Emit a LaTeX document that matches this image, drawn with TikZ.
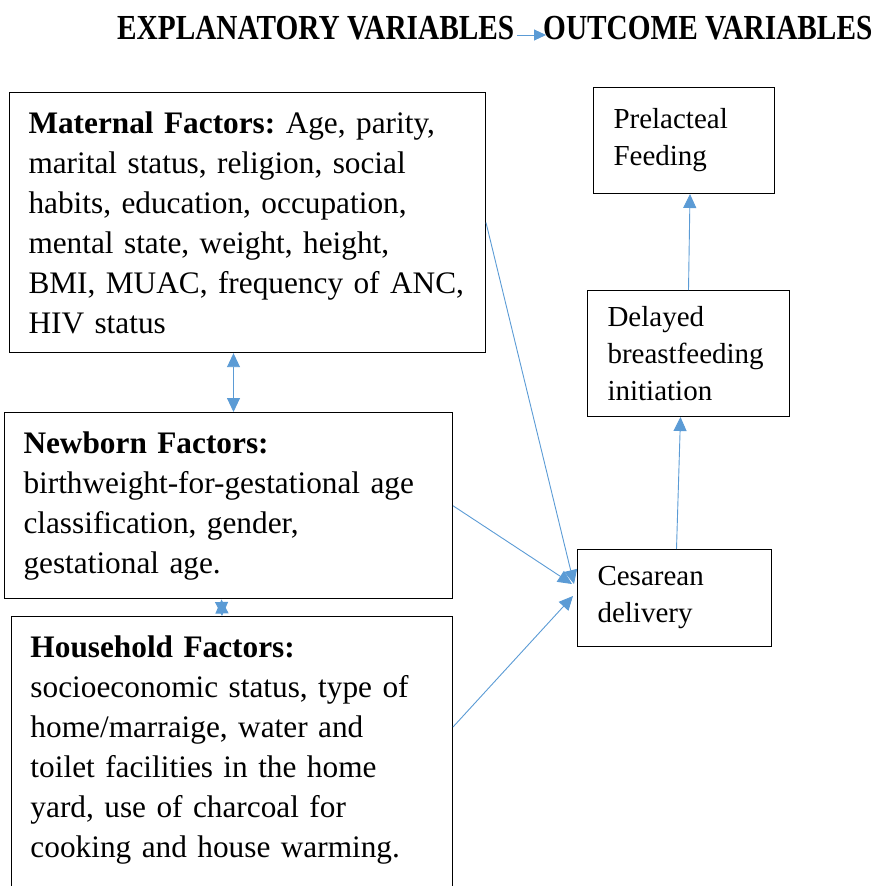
\documentclass[tikz,border=0pt]{standalone}
\usepackage{fontspec}
\setmainfont{Liberation Serif}
\usepackage{graphicx}
\usepackage{xcolor}
\usetikzlibrary{arrows.meta,calc,positioning}
\definecolor{linkblue}{RGB}{91,155,213}
\frenchspacing
\newcommand{\factorfont}{\fontsize{31.3}{40}\selectfont\frenchspacing}
\newcommand{\outcomefont}{\fontsize{29}{37}\selectfont\frenchspacing}
\newcommand{\titlefont}{\fontsize{29.3}{35}\selectfont\bfseries}
\tikzset{%
	factor/.style  = {draw, rectangle, line width=1pt, anchor=north west, align=left, inner xsep=19pt, inner ysep=19pt, font=\factorfont},
	outcome/.style = {draw, rectangle, line width=1pt, anchor=north west, align=left, inner xsep=20pt, inner ysep=0pt, font=\outcomefont},
	heading/.style = {anchor=base west, inner sep=0pt, font=\titlefont},
	link/.style    = {linkblue, line width=0.9pt, -{Triangle[length=14pt,width=13pt]}},
	twoway/.style  = {linkblue, line width=0.9pt, {Triangle[length=14pt,width=13pt]}-{Triangle[length=14pt,width=13pt]}},
}
\begin{document}
\begin{tikzpicture}[x=1pt,y=-1pt]
	\useasboundingbox (0,0) rectangle (876,886);
	
	% heading
	\node[heading] (expl) at (117,39) {\scalebox{1}[1.2]{EXPLANATORY VARIABLES}};
	\node[heading] (outc) at (543,39) {\scalebox{1}[1.2]{OUTCOME VARIABLES}};
	\draw[linkblue, line width=1pt, -{Triangle[length=12pt,width=11pt]}] ([xshift=3pt,yshift=4pt]expl.base east) -- ([xshift=3pt,yshift=4pt]outc.base west);
	
	% explanatory variables
	\node[factor, text width=438pt] (mat) at (9,92) {\textbf{Maternal Factors:} Age, parity,\\ marital status, religion, social\\ habits, education, occupation,\\ mental state, weight, height,\\ BMI, MUAC, frequency of ANC,\\ HIV status};
	\node[factor, text width=410pt] (nb) at (4,412) {\textbf{Newborn Factors:}\\ birthweight-for-gestational age\\ classification, gender,\\ gestational age.};
	\node[factor, text width=403pt] (hh) at (11,616) {\textbf{Household Factors:}\\ socioeconomic status, type of\\ home/marraige, water and\\ toilet facilities in the home\\ yard, use of charcoal for\\ cooking and house warming.\rule[-60pt]{0pt}{0pt}};
	
	% outcome variables
	\node[outcome, text width=141pt, minimum height=106pt] (pre) at (593,87) {Prelacteal\\ Feeding};
	\node[outcome, text width=162pt, minimum height=126pt] (del) at (587,290) {Delayed\\ breastfeeding\\ initiation};
	\node[outcome, text width=154pt, minimum height=97pt] (ces) at (577,549) {Cesarean\\ delivery};
	
	% links
	\draw[twoway] ([xshift=-14pt]mat.south) -- ([xshift=5pt]nb.north);
	\draw[twoway] ([xshift=-7pt]nb.south) -- ([xshift=-10pt]hh.north);
	\draw[link] (mat.east) -- ([xshift=-3pt,yshift=14pt]ces.west);
	\draw[link] (nb.east) -- ([xshift=-5pt,yshift=14pt]ces.west);
	\draw[link] ([yshift=-111pt]hh.north east) -- ([xshift=-4pt,yshift=2pt]ces.west);
	\draw[link] ([xshift=2pt]ces.north) -- ([xshift=-8pt]del.south);
	\draw[link] (del.north) -- ([xshift=6pt]pre.south);
\end{tikzpicture}
\end{document}
